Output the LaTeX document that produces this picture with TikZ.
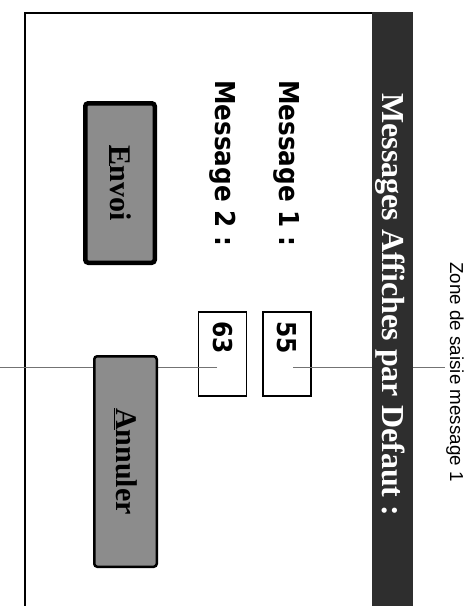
\documentclass[tikz,border=0pt]{standalone}
\usepackage{fontspec}
\newfontfamily\uifont{DejaVu Sans Condensed Bold}
\newfontfamily\titlefont{Liberation Serif Bold}
\newfontfamily\notefont{Liberation Sans}
\usetikzlibrary{positioning}

\begin{document}
\begin{tikzpicture}[
    x=1pt, y=-1pt,
    % Styles
    screentext/.style={ % rotated text of the dialog
        rotate=-90,
        anchor=base west,
        inner sep=0pt,
        font=\uifont\fontsize{27.4}{30}\selectfont
    },
    field/.style={ % entry field
        rotate=-90,
        rectangle,
        draw,
        line width=1.8pt,
        fill=white,
        align=left,
        text width=66pt,
        inner xsep=9pt,
        minimum height=48pt,
        font=\uifont\fontsize{26}{28}\selectfont
    },
    button/.style={ % push button
        rotate=-90,
        rectangle,
        rounded corners=3pt,
        draw,
        fill=black!45,
        inner sep=0pt,
        font=\titlefont\fontsize{30}{32}\selectfont
    },
    leader/.style={ % annotation line
        draw=black!55,
        line width=1pt
    },
    note/.style={ % annotation text
        rotate=-90,
        anchor=base,
        inner sep=1pt,
        font=\notefont\fontsize{18.8}{20}\selectfont
    }
]
    \useasboundingbox (0,0) rectangle (473,606);

    % Window frame
    \draw[line width=2pt] (25,606) |- (372,13);

    % Labels
    \node[screentext] (msg1) at (279,80) {Message 1 :};
    \node[screentext] (msg2) at (215,80) {Message 2 :};

    % Entry fields
    \node[field] (f55) at (287,354) {55};
    \node[field] (f63) at (222.5,354) {63};

    % Leader lines into the fields
    \coordinate (in55) at (293,367);
    \coordinate (in63) at (217,367);
    \coordinate (edge) at (0,367);
    \node[note] (zone1) at (450,372) {Zone de saisie message 1};
    \draw[leader] (zone1.south |- in55) -- (in55);
    \draw[leader] (in63) -- (edge);

    % Buttons
    \node[button, line width=4.5pt, minimum width=159.5pt, minimum height=69.5pt]
        (envoi) at (120,183) {\underline{E}nvoi};
    \node[button, line width=2.5pt, minimum width=210.5pt, minimum height=62.5pt]
        (annuler) at (125.5,461.5) {\underline{A}nnuler};

    % Title bar
    \fill[black!82] (372,12) rectangle (413,606);
    \node[screentext, font=\titlefont\fontsize{32}{34}\selectfont, text=white]
        (title) at (382,93) {Messages Affiches par Defaut :};
\end{tikzpicture}
\end{document}
